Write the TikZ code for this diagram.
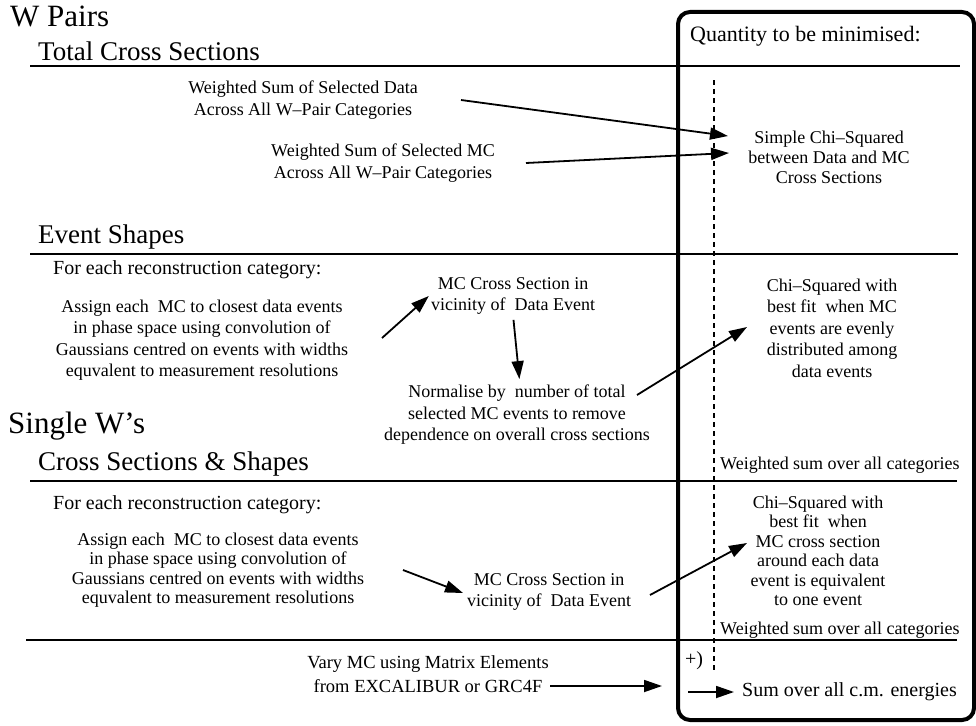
\documentclass[tikz,border=0pt]{standalone}
\usepackage{fontspec}
\setmainfont{Liberation Serif}
\usetikzlibrary{arrows.meta}

\newcommand{\fontHead}{\fontsize{31}{36}\selectfont}
\newcommand{\fontSub}{\fontsize{27}{31}\selectfont}
\newcommand{\fontQty}{\fontsize{22}{26}\selectfont}
\newcommand{\fontCat}{\fontsize{20}{24}\selectfont}
\newcommand{\fontBody}{\fontsize{18}{21.5}\selectfont}

\tikzstyle{rule}=[line width=1.6pt]
\tikzstyle{arr}=[-{Triangle[length=18pt,width=12pt]}, line width=1.8pt]
\tikzstyle{txt}=[inner sep=0pt, align=center, font=\fontBody]
\tikzstyle{head}=[inner sep=0pt, anchor=base west, font=\fontHead]
\tikzstyle{sub}=[inner sep=0pt, anchor=base west, font=\fontSub]

\begin{document}
\begin{tikzpicture}[x=1pt, y=-1pt]

\useasboundingbox (0,0) rectangle (976,725);

% Quantity box and dashed separator
\draw[line width=4pt, rounded corners=12pt] (678,12) rectangle (974,720);
\draw[line width=1.2pt, dash pattern=on 5pt off 4pt] (714,80) -- (714,672);

% Horizontal rules
\draw[rule] (30,66) -- (960,66);
\draw[rule] (30,254) -- (958,254);
\draw[rule] (30,481) -- (957,481);
\draw[rule] (26,640) -- (957,640);

% Headings
\node[head] (wpairs) at (10,27) {W Pairs};
\node[sub] (totxs) at (38,60) {Total Cross Sections};
\node[sub] (evshape) at (38,243) {Event Shapes};
\node[head] (singlew) at (8,433) {Single W's};
\node[sub] (xsshape) at (38,470) {Cross Sections \& Shapes};
\node[inner sep=0pt, anchor=west, font=\fontQty] (qty) at (690,36) {Quantity to be minimised:};

% W pairs: total cross sections
\node[txt] (dataSum) at (303,100) {Weighted Sum of Selected Data\\Across All W--Pair Categories};
\node[txt] (mcSum) at (383,163) {Weighted Sum of Selected MC\\Across All W--Pair Categories};
\node[txt, font=\fontsize{18}{20}\selectfont] (chiSimple) at (829,157) {Simple Chi--Squared\\between Data and MC\\Cross Sections};

\coordinate (dataTail) at (461,100);
\coordinate (dataTip) at (728,136);
\coordinate (mcTail) at (526,163);
\coordinate (mcTip) at (729,153);
\draw[arr] (dataTail) -- (dataTip);
\draw[arr] (mcTail) -- (mcTip);

% W pairs: event shapes
\node[inner sep=0pt, anchor=west, font=\fontCat] (catA) at (53,270) {For each reconstruction category:};
\node[txt] (assignA) at (202,340) {Assign each~ MC to closest data events\\in phase space using convolution of\\Gaussians centred on events with widths\\equvalent to measurement resolutions};
\node[txt] (mcVicA) at (513,296) {MC Cross Section in\\vicinity of~ Data Event};
\node[txt] (normA) at (517,415) {Normalise by~ number of total\\selected MC events to remove\\dependence on overall cross sections};
\node[txt] (chiEven) at (832,328) {Chi--Squared with\\best fit~ when MC\\events are evenly\\distributed among\\data events};

\coordinate (assignATail) at (382,338);
\coordinate (normATail) at (637,395);
\coordinate (chiEvenTip) at (747,327);
\draw[arr] (assignATail) -- ([xshift=-2pt]mcVicA.west);
\draw[arr, shorten <=5pt, shorten >=6pt] (mcVicA.south) -- ([xshift=3pt]normA.north);
\draw[arr] (normATail) -- (chiEvenTip);

% Single W: cross sections and shapes
\node[inner sep=0pt, anchor=west, font=\fontsize{18}{21}\selectfont] (wsumA) at (720,465) {Weighted sum over all categories};
\node[inner sep=0pt, anchor=west, font=\fontCat] (catB) at (53,505) {For each reconstruction category:};
\node[txt, font=\fontsize{18}{19.5}\selectfont] (assignB) at (218,570) {Assign each~ MC to closest data events\\in phase space using convolution of\\Gaussians centred on events with widths\\equvalent to measurement resolutions};
\node[txt] (mcVicB) at (549,592) {MC Cross Section in\\vicinity of~ Data Event};
\node[txt, font=\fontsize{18}{19.5}\selectfont] (chiEquiv) at (818,551) {Chi--Squared with\\best fit~ when\\MC cross section\\around each data\\event is equivalent\\to one event};

\coordinate (assignBTail) at (403,570);
\coordinate (mcVicBTip) at (463,593);
\coordinate (mcVicBTail) at (650,595);
\coordinate (chiEquivTip) at (747,543);
\draw[arr] (assignBTail) -- (mcVicBTip);
\draw[arr] (mcVicBTail) -- (chiEquivTip);

% Sum over energies
\node[inner sep=0pt, anchor=west, font=\fontsize{18}{21}\selectfont] (wsumB) at (720,630) {Weighted sum over all categories};
\node[inner sep=0pt, font=\fontCat] (plus) at (694,661) {+)};
\node[txt, font=\fontsize{18.5}{24}\selectfont] (varyMC) at (428,674) {Vary MC using Matrix Elements\\from EXCALIBUR or GRC4F};
\node[inner sep=0pt, anchor=west, font=\fontCat] (sumE) at (742,692) {Sum over all c.m. energies};

\coordinate (varyTail) at (550,686);
\coordinate (varyTip) at (662,686);
\coordinate (sumTail) at (688,692);
\draw[arr] (varyTail) -- (varyTip);
\draw[arr, shorten >=8pt] (sumTail) -- (sumE.west);

\end{tikzpicture}
\end{document}
